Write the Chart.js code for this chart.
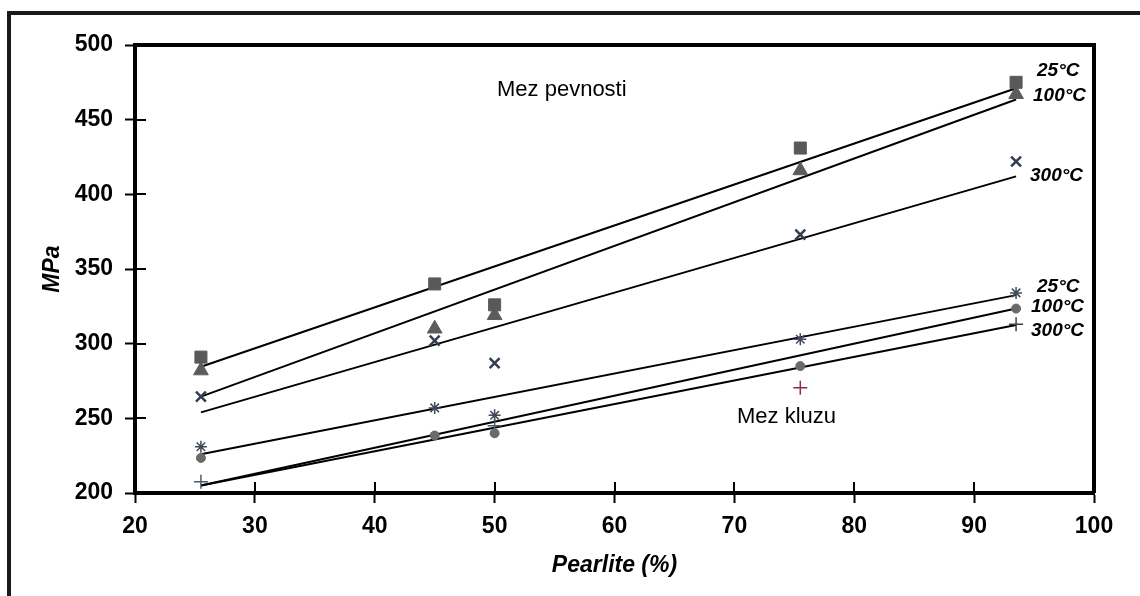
<!DOCTYPE html>
<html lang="cs">
<head>
    <meta charset="UTF-8">
    <title>Mez pevnosti a mez kluzu vs. Pearlite</title>
    <script src="https://cdn.jsdelivr.net/npm/chart.js"></script>
    <style>
        html, body { margin: 0; padding: 0; background: #fff; }
        #wrap { width: 1140px; height: 596px; }
    </style>
</head>
<body>
    <div id="wrap"><canvas id="pearliteChart" width="1140" height="596"></canvas></div>

    <script>
        // data
        var pearlite = [25.5, 45, 50, 75.5, 93.5];

        // Mez pevnosti (tensile strength), MPa
        var uts25 = [291, 340, 326, 431, 475];
        var uts100 = [282, 310, 319, 416, 467];
        var uts300 = [264.5, 302, 287, 373, 422];

        // Mez kluzu (yield strength), MPa
        var ys25 = [231, 257, 252, 303, 334];
        var ys100 = [223.5, 238.5, 240, 285, 323.5];
        var ys300 = [207.5, null, 245, 270.5, 313];

        // trend lines, value at each end
        var fitX = [25.5, 93.5];
        var utsFit25 = [284.5, 471];
        var utsFit100 = [264.5, 463.5];
        var utsFit300 = [254, 412];
        var ysFit25 = [226, 332.5];
        var ysFit100 = [205, 323.5];
        var ysFit300 = [205, 312.5];

        var xTicks = [20, 30, 40, 50, 60, 70, 80, 90, 100];
        var yTicks = [200, 250, 300, 350, 400, 450, 500];

        var groupLabels = ['Mez pevnosti', 'Mez kluzu'];
        var tempLabels = ['25°C', '100°C', '300°C'];

        var FONT = '"Liberation Sans", Arial, sans-serif';

        function pts(xs, ys) {
            return xs.map(function (x, i) { return { x: x, y: ys[i] }; });
        }

        function markers(vals, style, color, radius, width) {
            return {
                data: pts(pearlite, vals),
                showLine: false,
                pointStyle: style,
                pointRadius: radius,
                pointBorderWidth: width,
                backgroundColor: color,
                borderColor: color,
                order: 0
            };
        }

        function fitLine(vals) {
            return {
                data: pts(fitX, vals),
                showLine: true,
                pointRadius: 0,
                borderColor: '#000',
                borderWidth: 2,
                fill: false,
                order: 1
            };
        }

        var plusColors = ['#4d5b73', '#4d5b73', '#4d5b73', '#8e2b4a', '#3a3f48'];

        var ys300set = markers(ys300, 'cross', '#4d5b73', 7, 1.5);
        ys300set.borderColor = plusColors;

        // frame, inner ticks and text labels
        var decor = {
            id: 'decor',
            beforeDraw: function (chart) {
                var ctx = chart.ctx;
                ctx.save();
                ctx.fillStyle = '#fff';
                ctx.fillRect(0, 0, chart.width, chart.height);
                ctx.strokeStyle = '#1a1a1a';
                ctx.lineWidth = 4;
                ctx.beginPath();
                ctx.moveTo(9, chart.height);
                ctx.lineTo(9, 13);
                ctx.lineTo(chart.width, 13);
                ctx.stroke();
                ctx.restore();
            },
            afterDraw: function (chart) {
                var ctx = chart.ctx;
                var a = chart.chartArea;
                var xs = chart.scales.x;
                var ys = chart.scales.y;
                ctx.save();
                ctx.strokeStyle = '#000';
                ctx.lineWidth = 4;
                ctx.beginPath();
                ctx.moveTo(a.left, a.top);
                ctx.lineTo(a.right, a.top);
                ctx.lineTo(a.right, a.bottom);
                ctx.stroke();

                ctx.lineWidth = 2;
                ctx.beginPath();
                xTicks.forEach(function (v) {
                    var px = Math.round(xs.getPixelForValue(v));
                    ctx.moveTo(px, a.bottom);
                    ctx.lineTo(px, a.bottom - 11);
                });
                yTicks.forEach(function (v) {
                    var py = Math.round(ys.getPixelForValue(v));
                    ctx.moveTo(a.left, py);
                    ctx.lineTo(a.left + 11, py);
                });
                ctx.stroke();

                ctx.fillStyle = '#000';
                ctx.textBaseline = 'middle';
                ctx.textAlign = 'left';
                ctx.font = '22px ' + FONT;
                ctx.fillText(groupLabels[0], 497, 90);
                ctx.fillText(groupLabels[1], 737, 417);

                ctx.font = 'italic bold 19px ' + FONT;
                ctx.fillText(tempLabels[0], 1037, 71);
                ctx.fillText(tempLabels[1], 1033, 96);
                ctx.fillText(tempLabels[2], 1030, 176);
                ctx.fillText(tempLabels[0], 1037, 287);
                ctx.fillText(tempLabels[1], 1031, 307);
                ctx.fillText(tempLabels[2], 1031, 331);
                ctx.restore();
            }
        };

        var ctx = document.getElementById('pearliteChart').getContext('2d');
        var pearliteChart = new Chart(ctx, {
            type: 'scatter',
            data: {
                datasets: [
                    markers(uts25, 'rect', '#595959', 8.5, 1),
                    markers(uts100, 'triangle', '#5c5c5c', 8.5, 1),
                    markers(uts300, 'crossRot', '#333d4d', 7, 2.5),
                    markers(ys25, 'star', '#3f4a5a', 6, 1.5),
                    markers(ys100, 'circle', '#6a6a6a', 4.5, 1),
                    ys300set,
                    fitLine(utsFit25),
                    fitLine(utsFit100),
                    fitLine(utsFit300),
                    fitLine(ysFit25),
                    fitLine(ysFit100),
                    fitLine(ysFit300)
                ]
            },
            options: {
                responsive: false,
                animation: false,
                layout: {
                    padding: { left: 0, right: 46, top: 45, bottom: 0 }
                },
                plugins: {
                    legend: { display: false },
                    tooltip: { enabled: false }
                },
                scales: {
                    x: {
                        type: 'linear',
                        min: 20,
                        max: 100,
                        afterBuildTicks: function (scale) {
                            scale.ticks = xTicks.map(function (v) { return { value: v }; });
                        },
                        afterFit: function (scale) { scale.height = 103; },
                        ticks: {
                            color: '#000',
                            padding: 10,
                            maxRotation: 0,
                            font: { family: FONT, size: 23, weight: 'bold' }
                        },
                        grid: {
                            drawOnChartArea: false,
                            tickLength: 10,
                            tickWidth: 2,
                            color: '#000'
                        },
                        border: { display: true, width: 4, color: '#000' },
                        title: {
                            display: true,
                            text: 'Pearlite (%)',
                            color: '#000',
                            padding: { top: 0, bottom: 17 },
                            font: { family: FONT, size: 23, weight: 'bold', style: 'italic' }
                        }
                    },
                    y: {
                        type: 'linear',
                        min: 200,
                        max: 500,
                        afterBuildTicks: function (scale) {
                            scale.ticks = yTicks.map(function (v) { return { value: v }; });
                        },
                        afterFit: function (scale) { scale.width = 135; },
                        ticks: {
                            color: '#000',
                            padding: 12,
                            font: { family: FONT, size: 23, weight: 'bold' }
                        },
                        grid: {
                            drawOnChartArea: false,
                            tickLength: 10,
                            tickWidth: 2,
                            color: '#000'
                        },
                        border: { display: true, width: 4, color: '#000' },
                        title: {
                            display: true,
                            text: 'MPa',
                            color: '#000',
                            padding: { top: 39, bottom: 0 },
                            font: { family: FONT, size: 23, weight: 'bold', style: 'italic' }
                        }
                    }
                }
            },
            plugins: [decor]
        });
    </script>
</body>
</html>
